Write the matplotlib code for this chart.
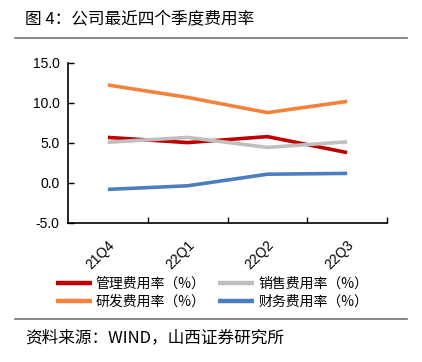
import matplotlib
matplotlib.use("agg")
import matplotlib.pyplot as plt
from matplotlib.lines import Line2D

quarters = ["21Q4", "22Q1", "22Q2", "22Q3"]
mgmt_rate = [5.7, 5.05, 5.8, 3.8]      # 管理费用率
sales_rate = [5.1, 5.7, 4.45, 5.15]    # 销售费用率
rd_rate = [12.25, 10.7, 8.8, 10.2]     # 研发费用率
fin_rate = [-0.8, -0.35, 1.1, 1.2]     # 财务费用率
yticks = [-5, 0, 5, 10, 15]

CJK = ["Noto Sans CJK SC", "DejaVu Sans"]
NUM = ["Liberation Sans", "DejaVu Sans"]

fig = plt.figure(figsize=(4.22, 3.62), dpi=100)
W, H = 422, 362

def fx(px):
    return px / W

def fy(py):
    return 1 - py / H

# title band and rules
fig.text(fx(25), fy(20), "图 4：公司最近四个季度费用率", family=CJK, fontsize=12,
         va="center", ha="left")
fig.add_artist(Line2D([fx(15), fx(407)], [fy(38), fy(38)], color="0.45", lw=1.2))
fig.add_artist(Line2D([fx(15), fx(407)], [fy(319), fy(319)], color="0.45", lw=1.2))
fig.text(fx(25), fy(338), "资料来源：WIND，山西证券研究所", family=CJK, fontsize=12,
         va="center", ha="left")

ax = fig.add_axes([fx(68), fy(223), fx(387 - 68), (223 - 63) / H])
x = range(len(quarters))
series = [
    (mgmt_rate, "#C00000", "管理费用率（%）"),
    (sales_rate, "#BFBFBF", "销售费用率（%）"),
    (rd_rate, "#F4823C", "研发费用率（%）"),
    (fin_rate, "#4A7EBF", "财务费用率（%）"),
]
handles = []
for vals, color, label in series:
    h, = ax.plot(x, vals, color=color, lw=2.6, solid_capstyle="butt", label=label)
    handles.append(h)

ax.set_xlim(-0.5, len(quarters) - 0.5)
ax.set_ylim(-5, 15)
ax.set_yticks(yticks)
ax.set_yticklabels([f"{v:.1f}" for v in yticks], family=NUM, fontsize=10)
ax.set_xticks([i + 0.5 for i in range(len(quarters))])
ax.set_xticklabels([])
ax.tick_params(axis="both", direction="in", length=4, width=1, color="black")
ax.tick_params(axis="y", pad=6)
for i, q in enumerate(quarters):
    ax.text(i + 0.12, -6.9, q, rotation=45, ha="right", va="top", family=NUM,
            fontsize=10)
for s in ("top", "right"):
    ax.spines[s].set_visible(False)
for s in ("left", "bottom"):
    ax.spines[s].set_linewidth(1.2)

# legend: row 1 管理/销售, row 2 研发/财务 (legend fills column-major)
order = [handles[0], handles[2], handles[1], handles[3]]
leg = fig.legend(order, [h.get_label() for h in order], ncol=2, frameon=False,
                 loc="center", bbox_to_anchor=(fx(212), fy(293)),
                 prop={"family": CJK, "size": 10}, handlelength=2.6,
                 handletextpad=0.3, columnspacing=0.9, labelspacing=0.3)
for lh in leg.get_lines():
    lh.set_linewidth(3.2)

fig.savefig("out.png", dpi=100)
